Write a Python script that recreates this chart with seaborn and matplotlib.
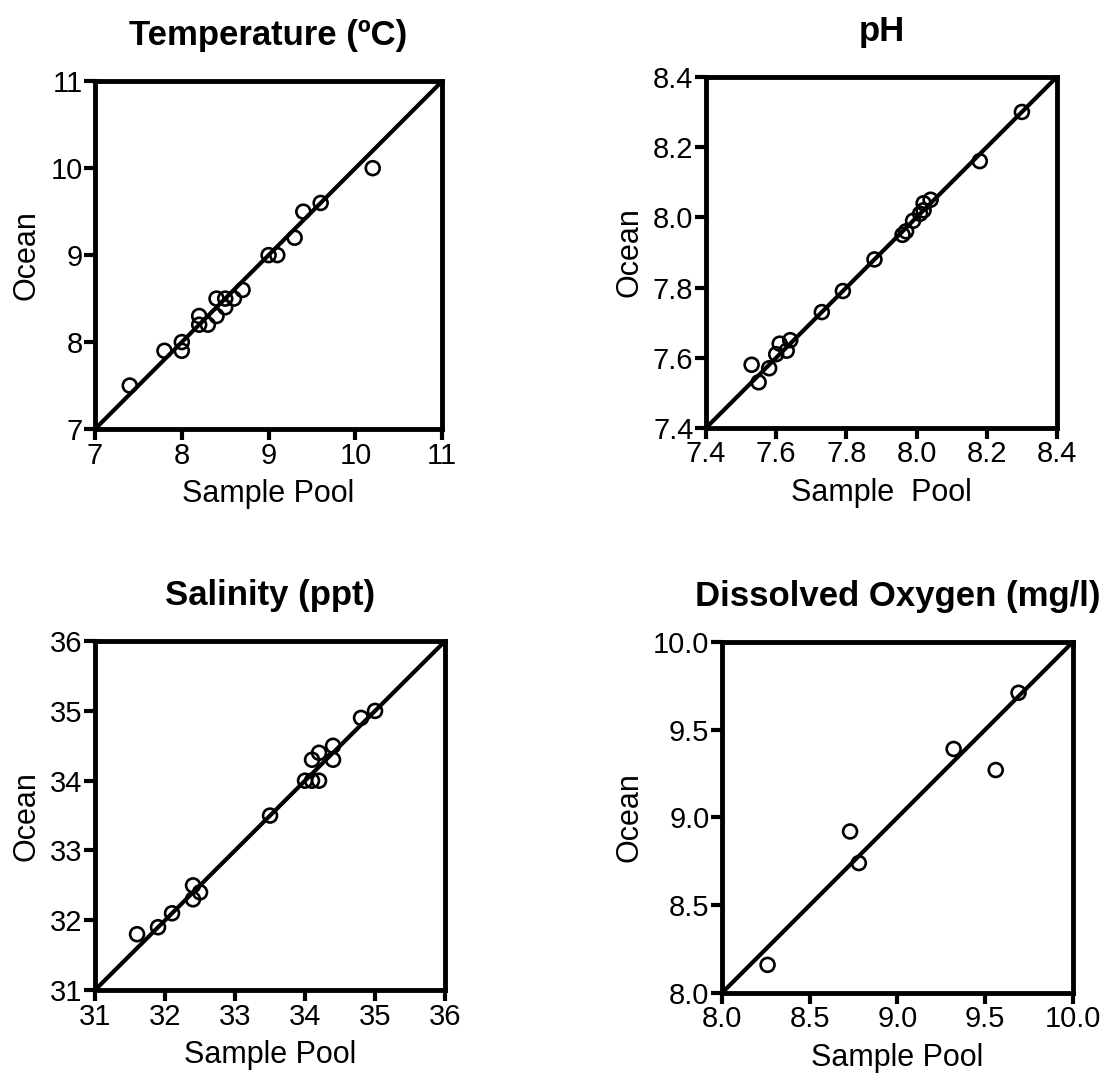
"""
Sample pool vs ocean: four water-quality comparisons
"""
import matplotlib
matplotlib.use("Agg")
import matplotlib.pyplot as plt
import seaborn as sns
import pandas as pd

# Temperature (ºC)
temp_pool = [7.4, 7.8, 8.0, 8.0, 8.2, 8.2, 8.3, 8.4, 8.4, 8.5, 8.5, 8.6, 8.7, 9.0, 9.1, 9.3, 9.4, 9.6, 10.2]
temp_ocean = [7.5, 7.9, 8.0, 7.9, 8.3, 8.2, 8.2, 8.5, 8.3, 8.5, 8.4, 8.5, 8.6, 9.0, 9.0, 9.2, 9.5, 9.6, 10.0]

# pH
ph_pool = [7.53, 7.55, 7.58, 7.60, 7.61, 7.63, 7.64, 7.73, 7.79, 7.88, 7.96, 7.97, 7.99, 8.01, 8.02, 8.02, 8.04, 8.18, 8.30]
ph_ocean = [7.58, 7.53, 7.57, 7.61, 7.64, 7.62, 7.65, 7.73, 7.79, 7.88, 7.95, 7.96, 7.99, 8.01, 8.02, 8.04, 8.05, 8.16, 8.30]

# Salinity (ppt)
sal_pool = [31.6, 31.9, 32.1, 32.4, 32.4, 32.5, 33.5, 34.0, 34.1, 34.2, 34.1, 34.2, 34.4, 34.4, 34.8, 35.0]
sal_ocean = [31.8, 31.9, 32.1, 32.5, 32.3, 32.4, 33.5, 34.0, 34.0, 34.0, 34.3, 34.4, 34.5, 34.3, 34.9, 35.0]

# Dissolved oxygen (mg/l)
do_pool = [8.26, 8.73, 8.78, 9.32, 9.56, 9.69]
do_ocean = [8.16, 8.92, 8.74, 9.39, 9.27, 9.71]

# axis ranges / ticks
temp_ticks = [7, 8, 9, 10, 11]
ph_ticks = [7.4, 7.6, 7.8, 8.0, 8.2, 8.4]
sal_ticks = [31, 32, 33, 34, 35, 36]
do_ticks = [8.0, 8.5, 9.0, 9.5, 10.0]


def draw_panel(fig, rect, pool, ocean, ticks, fmt, title, xlabel):
    ax = fig.add_axes(rect)
    df = pd.DataFrame({"pool": pool, "ocean": ocean})
    lims = [ticks[0], ticks[-1]]
    # identity line
    ax.plot(lims, lims, color="black", lw=3.0, solid_capstyle="butt", zorder=2)
    sns.scatterplot(data=df, x="pool", y="ocean", ax=ax, marker="o", s=100,
                    facecolor="none", edgecolor="black", linewidth=1.9, zorder=3)
    ax.set_xlim(lims)
    ax.set_ylim(lims)
    ax.set_xticks(ticks)
    ax.set_yticks(ticks)
    ax.set_xticklabels([fmt.format(t) for t in ticks])
    ax.set_yticklabels([fmt.format(t) for t in ticks])
    ax.set_title(title, fontsize=25, fontweight="bold", pad=26, color="black")
    ax.set_xlabel(xlabel, fontsize=22, labelpad=7, color="black")
    ax.set_ylabel("Ocean", fontsize=22, labelpad=6, color="black")
    for sp in ax.spines.values():
        sp.set_visible(True)
        sp.set_linewidth(3.5)
        sp.set_color("black")
    ax.tick_params(axis="both", direction="out", length=8, width=3.0,
                   labelsize=21, pad=1, colors="black", bottom=True, left=True)
    return ax


def main():
    sns.set_theme(style="white")
    plt.rcParams["font.family"] = ["Liberation Sans", "DejaVu Sans"]

    fig = plt.figure(figsize=(11.09, 10.87), dpi=100)

    draw_panel(fig, [0.0857, 0.6053, 0.313, 0.320], temp_pool, temp_ocean,
               temp_ticks, "{:.0f}", "Temperature (\u00baC)", "Sample Pool")
    draw_panel(fig, [0.6366, 0.6063, 0.3165, 0.323], ph_pool, ph_ocean,
               ph_ticks, "{:.1f}", "pH", "Sample  Pool")
    draw_panel(fig, [0.0857, 0.0892, 0.3156, 0.321], sal_pool, sal_ocean,
               sal_ticks, "{:.0f}", "Salinity (ppt)", "Sample Pool")
    draw_panel(fig, [0.6510, 0.0865, 0.3165, 0.323], do_pool, do_ocean,
               do_ticks, "{:.1f}", "Dissolved Oxygen (mg/l)", "Sample Pool")

    fig.savefig("out.png", dpi=100, facecolor="white")


if __name__ == "__main__":
    main()
